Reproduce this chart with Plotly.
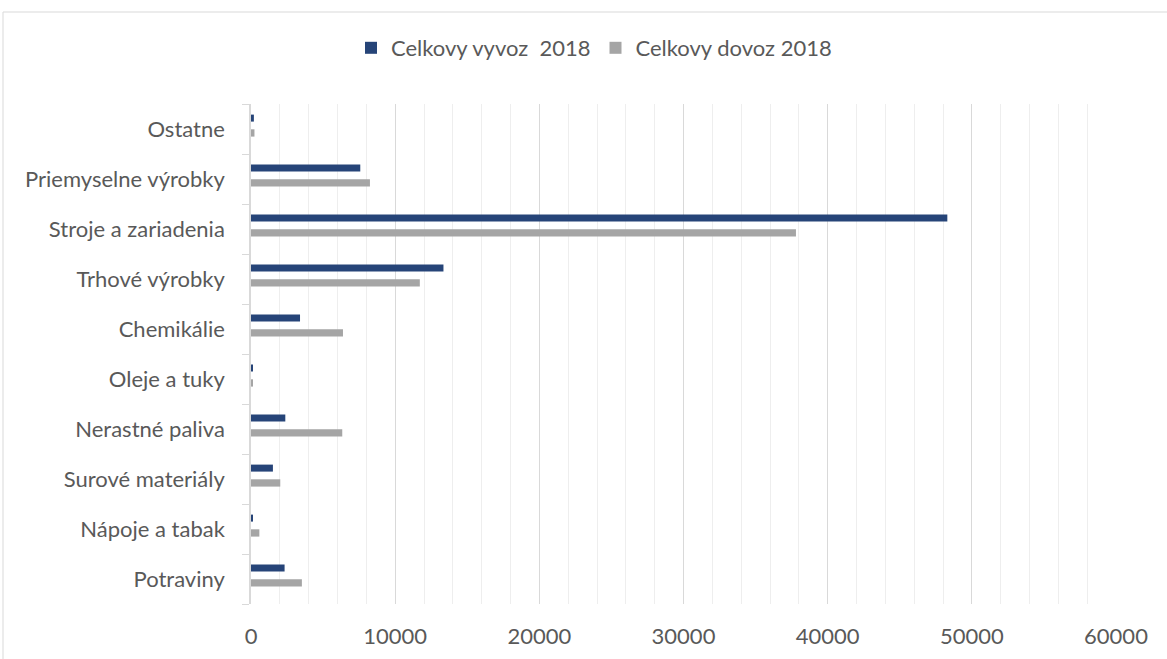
import plotly.graph_objects as go

categories = ["Potraviny", "Nápoje a tabak", "Surové materiály", "Nerastné paliva",
              "Oleje a tuky", "Chemikálie", "Trhové výrobky", "Stroje a zariadenia",
              "Priemyselne výrobky", "Ostatne"]
vyvoz_2018 = [2330, 140, 1520, 2380, 70, 3400, 13350, 48300, 7580, 200]
dovoz_2018 = [3530, 580, 2030, 6330, 140, 6380, 11710, 37800, 8250, 240]
series_names = ["Celkovy vyvoz\u00a0 2018", "Celkovy dovoz 2018"]
x_ticks = [0, 10000, 20000, 30000, 40000, 50000, 60000]

FONT = "Lato, Carlito, Calibri, sans-serif"
TXT = "#595959"
FS = 22

fig = go.Figure()
fig.add_trace(go.Bar(
    y=categories, x=vyvoz_2018, orientation="h", name=series_names[0],
    marker=dict(color="#264478", line=dict(width=0)),
    width=0.14, offset=0.148,
))
fig.add_trace(go.Bar(
    y=categories, x=dovoz_2018, orientation="h", name=series_names[1],
    marker=dict(color="#A5A5A5", line=dict(width=0)),
    width=0.146, offset=-0.152,
))

fig.update_layout(
    width=1167, height=659,
    margin=dict(l=251, r=51, t=104, b=55, autoexpand=False),
    paper_bgcolor="white", plot_bgcolor="white",
    font=dict(family=FONT, size=FS, color=TXT),
    barmode="overlay",
    showlegend=True,
    legend=dict(orientation="h", xref="container", yref="container",
                x=0.509, xanchor="center", y=1 - 48 / 659, yanchor="middle",
                font=dict(family=FONT, size=FS, color=TXT), traceorder="normal",
                itemwidth=30, bgcolor="rgba(0,0,0,0)"),
    xaxis=dict(
        range=[0, 60000], tickvals=x_ticks, ticktext=[str(v) for v in x_ticks],
        showgrid=True, gridcolor="#d9d9d9", gridwidth=1.3,
        minor=dict(dtick=2000, showgrid=True, gridcolor="#eeeeee", gridwidth=1),
        zeroline=False, showline=False, ticks="",
        tickfont=dict(family=FONT, size=FS, color=TXT),
        ticklabelstandoff=17, automargin=False,
        fixedrange=True,
    ),
    yaxis=dict(
        type="category", categoryorder="array", categoryarray=categories,
        range=[-0.5, len(categories) - 0.5],
        showline=True, linecolor="#d9d9d9", linewidth=1.5,
        ticks="outside", tickson="boundaries", ticklen=7, tickcolor="#d9d9d9",
        showgrid=False, zeroline=False,
        tickfont=dict(family=FONT, size=FS, color=TXT),
        ticklabelstandoff=20, automargin=False,
    ),
    shapes=[dict(type="rect", xref="paper", yref="paper",
                 x0=(3 - 251) / 865, x1=1.2, y0=-0.3, y1=(604 - 12) / 500,
                 line=dict(color="#d9d9d9", width=1), fillcolor="rgba(0,0,0,0)",
                 layer="below")],
)

fig.write_html("out.html", config={"displayModeBar": False},
               post_script="document.body.style.margin='0';document.body.style.overflow='hidden';")
